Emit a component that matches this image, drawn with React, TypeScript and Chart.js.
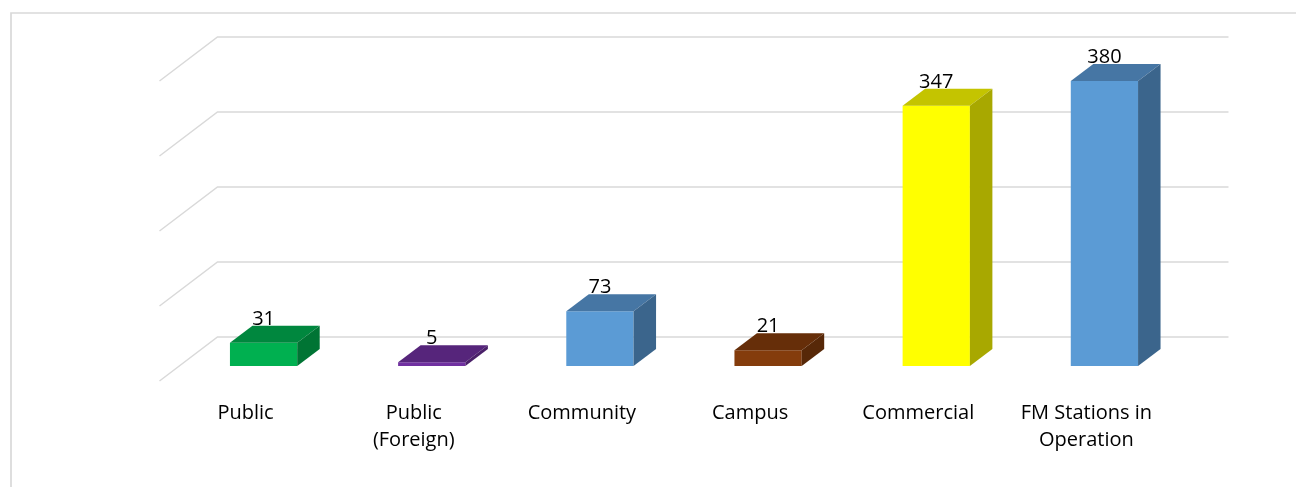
import React, { useEffect, useRef } from "react";
import { Chart, registerables } from "chart.js";

Chart.register(...registerables);

// ---- data ----
const categories: (string | string[])[] = [
  "Public",
  ["Public", "(Foreign)"],
  "Community",
  "Campus",
  "Commercial",
  ["FM Stations in", "Operation"],
];
const stationCounts: number[] = [31, 5, 73, 21, 347, 380];
const frontColors: string[] = ["#00B050", "#7030A0", "#5B9BD5", "#843C0C", "#FFFF00", "#5B9BD5"];
const topColors: string[] = ["#00873E", "#56257B", "#4676A4", "#662E09", "#C4C400", "#4676A4"];
const sideColors: string[] = ["#007434", "#4A2069", "#3B658C", "#572808", "#A8A800", "#3B658C"];
const gridValues: number[] = [0, 100, 200, 300, 400];

// ---- 3D geometry (pixels) ----
const BAR_DX = 22.5; // bar depth, x
const BAR_DY = 17; // bar depth, y
const WALL_DX = 38; // front bar plane -> back wall
const WALL_DY = 29;
const FLOOR_DX = 58; // back wall -> floor front
const FLOOR_DY = 44;
const GRID_COLOR = "#D9D9D9";
const FONT = "20px 'Open Sans'";

const threeDPlugin = {
  id: "threeD",
  beforeDraw(chart: any) {
    const ctx = chart.ctx as CanvasRenderingContext2D;
    ctx.save();
    ctx.strokeStyle = GRID_COLOR;
    ctx.lineWidth = 1.7;
    ctx.beginPath();
    ctx.moveTo(11, chart.height);
    ctx.lineTo(11, 13);
    ctx.lineTo(chart.width, 13);
    ctx.stroke();
    ctx.restore();
  },
  beforeDatasetsDraw(chart: any) {
    const ctx = chart.ctx as CanvasRenderingContext2D;
    const y = chart.scales.y;
    const area = chart.chartArea;
    const backLeft = area.left + WALL_DX;
    const backRight = area.right + WALL_DX + 2;
    ctx.save();
    ctx.strokeStyle = GRID_COLOR;
    ctx.lineWidth = 1.5;
    gridValues.forEach((v) => {
      const yb = y.getPixelForValue(v) - WALL_DY;
      ctx.beginPath();
      ctx.moveTo(backLeft - FLOOR_DX, yb + FLOOR_DY);
      ctx.lineTo(backLeft, yb);
      ctx.lineTo(backRight, yb);
      ctx.stroke();
    });
    ctx.restore();
  },
  afterDatasetsDraw(chart: any) {
    const ctx = chart.ctx as CanvasRenderingContext2D;
    const meta = chart.getDatasetMeta(0);
    ctx.save();
    meta.data.forEach((el: any, i: number) => {
      const left = el.x - el.width / 2;
      const right = el.x + el.width / 2;
      const top = el.y;
      const base = el.base;
      // top face
      ctx.fillStyle = topColors[i];
      ctx.beginPath();
      ctx.moveTo(left, top);
      ctx.lineTo(left + BAR_DX, top - BAR_DY);
      ctx.lineTo(right + BAR_DX, top - BAR_DY);
      ctx.lineTo(right, top);
      ctx.closePath();
      ctx.fill();
      // side face
      ctx.fillStyle = sideColors[i];
      ctx.beginPath();
      ctx.moveTo(right, top);
      ctx.lineTo(right + BAR_DX, top - BAR_DY);
      ctx.lineTo(right + BAR_DX, base - BAR_DY);
      ctx.lineTo(right, base);
      ctx.closePath();
      ctx.fill();
      // value label
      ctx.fillStyle = "#000000";
      ctx.font = FONT;
      ctx.textAlign = "center";
      ctx.textBaseline = "alphabetic";
      ctx.fillText(String(stationCounts[i]), el.x, top - BAR_DY - 1);
    });
    ctx.restore();
  },
};

export default function App() {
  const canvasRef = useRef<HTMLCanvasElement | null>(null);

  useEffect(() => {
    if (!canvasRef.current) return;
    const chart = new Chart(canvasRef.current, {
      type: "bar",
      data: {
        labels: categories,
        datasets: [
          {
            data: stationCounts,
            backgroundColor: frontColors,
            borderWidth: 0,
            barPercentage: 0.4,
            categoryPercentage: 1,
          },
        ],
      },
      options: {
        animation: false,
        responsive: true,
        maintainAspectRatio: false,
        layout: { padding: { left: 179.5, right: 107.5, top: 66, bottom: 0 } },
        plugins: {
          legend: { display: false },
          tooltip: { enabled: false },
        },
        scales: {
          x: {
            grid: { display: false, drawTicks: false },
            border: { display: false },
            ticks: {
              color: "#000000",
              font: { family: "'Open Sans'", size: 20, lineHeight: 1.33 },
              padding: 34,
              labelOffset: -18,
              maxRotation: 0,
              autoSkip: false,
            },
            afterFit: (scale: any) => {
              scale.height = 121;
            },
          },
          y: {
            display: false,
            min: 0,
            max: 400,
          },
        },
      },
      plugins: [threeDPlugin],
    });
    return () => chart.destroy();
  }, []);

  return (
    <div style={{ position: "absolute", left: 0, top: 0, width: 1296, height: 487, background: "#ffffff" }}>
      <canvas ref={canvasRef} />
    </div>
  );
}
